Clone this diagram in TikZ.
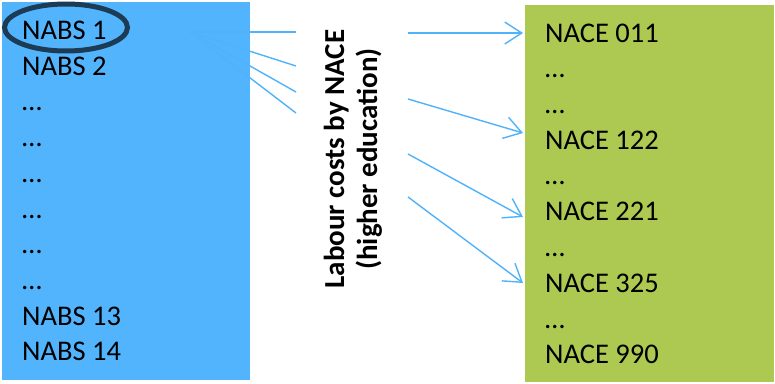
\documentclass[tikz,border=0pt]{standalone}
\usepackage{fontspec}
\setmainfont{Carlito}
\usetikzlibrary{arrows.meta}
\definecolor{nabsblue}{RGB}{82,180,253}
\definecolor{linkblue}{RGB}{80,178,250}
\definecolor{nacegreen}{RGB}{174,201,82}
\definecolor{ringnavy}{RGB}{28,60,86}
\tikzset{
  item/.style={anchor=base west, inner sep=0pt, font=\fontsize{28.5}{33}\selectfont},
  link/.style={draw=linkblue, line width=1.4pt},
  arrowlink/.style={link, -{Straight Barb[length=17pt, width=22pt, line width=1.4pt]}}
}
\begin{document}
\begin{tikzpicture}[x=1pt,y=-1pt]
\useasboundingbox (0,0) rectangle (775,383);
% the two classification boxes
\fill[nabsblue] (2,2) rectangle (250,380);
\fill[nacegreen] (525,5) rectangle (774,382);
% NABS side
\node[item] (A1) at (22,39.5) {NABS 1};
\node[item] (A2) at (22,75.2) {NABS 2};
\node[item] (A3) at (22,110.9) {…};
\node[item] (A4) at (22,146.6) {…};
\node[item] (A5) at (22,182.3) {…};
\node[item] (A6) at (22,218) {…};
\node[item] (A7) at (22,253.7) {…};
\node[item] (A8) at (22,289.4) {…};
\node[item] (A9) at (22,325.1) {NABS 13};
\node[item] (A10) at (22,360.8) {NABS 14};
\draw[ringnavy, line width=5pt] (66,27.5) ellipse [x radius=61.5, y radius=23.5];
% NACE side
\node[item] (C1) at (545,42) {NACE 011};
\node[item] (C2) at (545,77.5) {…};
\node[item] (C3) at (545,113) {…};
\node[item] (C4) at (545,149) {NACE 122};
\node[item] (C5) at (545,184) {…};
\node[item] (C6) at (545,220) {NACE 221};
\node[item] (C7) at (545,256) {…};
\node[item] (C8) at (545,292) {NACE 325};
\node[item] (C9) at (545,328) {…};
\node[item] (C10) at (545,363) {NACE 990};
% key in the middle
\node[rotate=90, align=center, inner sep=0pt,
  font=\bfseries\fontsize{29}{33}\selectfont] (key) at (353,159)
  {Labour costs by NACE\\(higher education)};
% fan out of NABS 1
\coordinate (fan) at (190,32);
\coordinate (f1) at (296,32);
\coordinate (f2) at (296,66);
\coordinate (f3) at (296,92);
\coordinate (f4) at (296,113);
\draw[link] (fan) -- (f1);
\draw[link] (fan) -- (f2);
\draw[link] (fan) -- (f3);
\draw[link] (fan) -- (f4);
% arrows into NACE
\coordinate (s1) at (408,33);
\coordinate (s2) at (408,99);
\coordinate (s3) at (408,154);
\coordinate (s4) at (408,197);
\coordinate (t1) at (523,33);
\coordinate (t2) at (523,133);
\coordinate (t3) at (523,217);
\coordinate (t4) at (523,283);
\draw[arrowlink] (s1) -- (t1);
\draw[arrowlink] (s2) -- (t2);
\draw[arrowlink] (s3) -- (t3);
\draw[arrowlink] (s4) -- (t4);
\end{tikzpicture}
\end{document}
